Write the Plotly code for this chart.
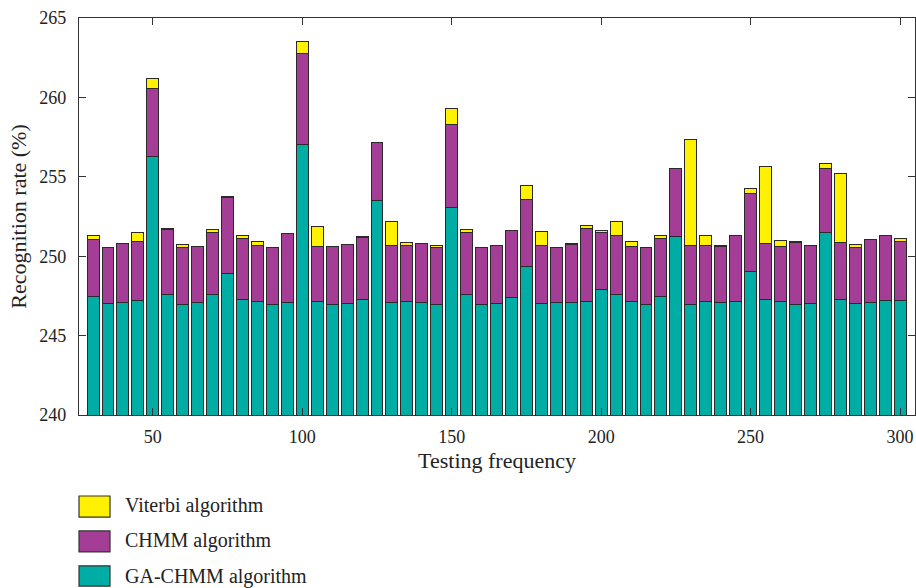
import plotly.graph_objects as go

freq = list(range(30, 305, 5))

ga_chmm = [247.44, 247.02, 247.08, 247.18, 256.28, 247.56, 246.96, 247.06, 247.59, 248.91,
           247.25, 247.17, 246.96, 247.06, 257.01, 247.12, 246.99, 247.02, 247.25, 253.53,
           247.06, 247.12, 247.10, 246.98, 253.09, 247.61, 246.99, 247.02, 247.37, 249.35,
           247.02, 247.06, 247.06, 247.17, 247.92, 247.61, 247.12, 246.98, 247.48, 251.26,
           246.99, 247.12, 247.06, 247.17, 249.03, 247.27, 247.12, 246.99, 247.02, 251.47,
           247.27, 247.02, 247.08, 247.23, 247.23]

chmm = [3.61, 3.53, 3.72, 3.77, 4.26, 4.12, 3.59, 3.55, 3.90, 4.81,
        3.88, 3.48, 3.56, 4.37, 5.78, 3.51, 3.60, 3.69, 3.93, 3.63,
        3.61, 3.57, 3.68, 3.54, 5.21, 3.88, 3.53, 3.63, 4.27, 4.22,
        3.65, 3.51, 3.70, 4.59, 3.55, 3.67, 3.49, 3.54, 3.65, 4.29,
        3.66, 3.53, 3.56, 4.13, 4.92, 3.53, 3.49, 3.86, 3.63, 4.08,
        3.59, 3.50, 3.95, 4.05, 3.72]

viterbi = [0.23, 0.0, 0.0, 0.52, 0.63, 0.05, 0.19, 0.0, 0.21, 0.04,
           0.15, 0.27, 0.0, 0.0, 0.76, 1.22, 0.0, 0.0, 0.05, 0.0,
           1.49, 0.15, 0.05, 0.17, 1.03, 0.19, 0.0, 0.0, 0.0, 0.86,
           0.86, 0.0, 0.06, 0.17, 0.17, 0.91, 0.29, 0.0, 0.15, 0.0,
           6.72, 0.63, 0.06, 0.0, 0.29, 4.85, 0.40, 0.06, 0.0, 0.29,
           4.33, 0.22, 0.0, 0.05, 0.14]

names = ["GA-CHMM algorithm", "CHMM algorithm", "Viterbi algorithm"]
colors = ["#00ADA5", "#A43D96", "#FFF100"]
series = [ga_chmm, chmm, viterbi]

FONT = "Liberation Serif"
fig = go.Figure()
for name, col, vals in zip(names, colors, series):
    fig.add_trace(go.Bar(x=freq, y=vals, name=name, marker_color=col,
                         marker_line=dict(color="#2a2a2a", width=1), showlegend=False))

fig.update_layout(
    barmode="stack", bargap=0.2,
    width=916, height=588,
    margin=dict(l=79, r=1, t=18, b=173),
    plot_bgcolor="white", paper_bgcolor="white",
    font=dict(family=FONT, size=18, color="#222"),
)
fig.update_xaxes(range=[25.3, 305], tickvals=[50, 100, 150, 200, 250, 300],
                 ticks="inside", ticklen=7, tickcolor="#333", mirror="ticks",
                 showline=True, linecolor="#333", linewidth=1.2, showgrid=False,
                 ticklabelstandoff=5,
                 title=dict(text="Testing frequency", standoff=6), zeroline=False)
fig.update_yaxes(range=[240, 265], tickvals=[240, 245, 250, 255, 260, 265],
                 ticks="inside", ticklen=7, tickcolor="#333", mirror="ticks",
                 showline=True, linecolor="#333", linewidth=1.2, showgrid=False,
                 ticklabelstandoff=8,
                 title=dict(text="Recognition rate (%)", standoff=6), zeroline=False)

# legend drawn below the plot
leg = [("Viterbi algorithm", "#FFF100", -0.204, -0.257, -0.229),
       ("CHMM algorithm", "#A43D96", -0.292, -0.345, -0.317),
       ("GA-CHMM algorithm", "#00ADA5", -0.380, -0.431, -0.406)]
for txt, col, y0, y1, yc in leg:
    fig.add_shape(type="rect", xref="paper", yref="paper", x0=0.0, x1=0.0371,
                  y0=y1, y1=y0, fillcolor=col, line=dict(color="#333", width=1.2))
    fig.add_annotation(xref="paper", yref="paper", x=0.0526, y=yc, text=txt,
                       showarrow=False, xanchor="left", yanchor="middle",
                       font=dict(family=FONT, size=20, color="#222"))

fig.write_html("out.html")
